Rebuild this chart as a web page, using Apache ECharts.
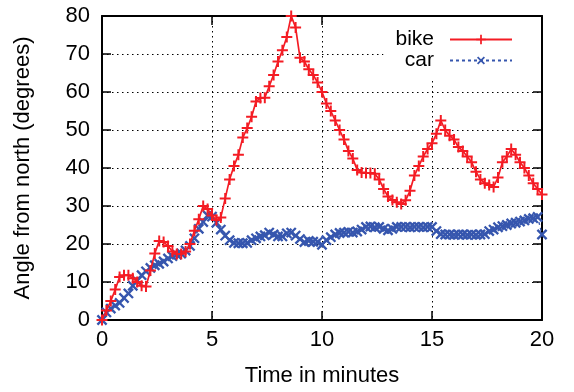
<!DOCTYPE html>
<html>
<head>
<meta charset="utf-8">
<script src="https://cdn.jsdelivr.net/npm/echarts@6/dist/echarts.min.js"></script>
<style>
html,body{margin:0;padding:0;background:#fff;}
#chart{width:574px;height:392px;}
</style>
</head>
<body>
<div id="chart"></div>
<script>
// Time of samples (minutes)
const times = [0,0.2,0.4,0.6,0.8,1,1.2,1.4,1.6,1.8,2,2.2,2.4,2.6,2.8,3,3.2,3.4,3.6,3.8,4,4.2,4.4,4.6,4.8,5,5.2,5.4,5.6,5.8,6,6.2,6.4,6.6,6.8,7,7.2,7.4,7.6,7.8,8,8.2,8.4,8.6,8.8,9,9.2,9.4,9.6,9.8,10,10.2,10.4,10.6,10.8,11,11.2,11.4,11.6,11.8,12,12.2,12.4,12.6,12.8,13,13.2,13.4,13.6,13.8,14,14.2,14.4,14.6,14.8,15,15.2,15.4,15.6,15.8,16,16.2,16.4,16.6,16.8,17,17.2,17.4,17.6,17.8,18,18.2,18.4,18.6,18.8,19,19.2,19.4,19.6,19.8,20];

const bikeValues = [0,2.5,5,8,11.3,11.8,11.8,11,10,9,8.8,13,17.5,20.8,20.5,19.5,18,17.4,17.4,18,20,23.5,26.5,30,29.2,27.5,26.3,27,32,37,40.5,43.5,48,50.5,53.5,57.5,58.4,58.5,61.5,64.5,68,71,74.5,80,77,69,68,66,64.5,62.5,60,57,55,52.5,50,47.5,44.5,42.5,39.5,38.8,38.7,38.7,38.5,37,34.5,32.5,31.6,31,30.5,31.5,34,38,40.5,43,45,46.5,49,52.5,50,48.5,47.5,45.5,44.5,43,41.5,39,37,36,35.5,35,37.5,41.5,43,45,43.5,41.5,40,38,36,34.5,33];

const carValues = [0,2,3,3.8,4.5,5.8,7,9,10.3,11.8,12.8,13.7,14.4,14.8,15.4,16.2,16.8,17.2,17.5,18.3,19.5,21.5,24,25.8,27.5,27.2,25.6,23.8,22.2,21,20.3,20.2,20.2,20.3,21,21.5,22,22.3,23,22.5,22,22,22.8,23,22.2,21.3,20.5,20.8,20.6,20.5,19.8,21,21.8,22.5,22.9,23,23.2,23,23.3,23.8,24.5,24.6,24.4,24.5,24,23.6,24,24.5,24.5,24.5,24.4,24.5,24.5,24.4,24.5,24.5,23.4,22.6,22.5,22.5,22.4,22.5,22.5,22.4,22.5,22.4,22.5,22.6,23.4,23.8,24.4,24.7,25,25.4,25.6,25.9,26.2,26.6,26.8,27.1,22.5];

const seriesNames = ['bike', 'car'];
const xTicks = [0, 5, 10, 15, 20];
const yTicks = [0, 10, 20, 30, 40, 50, 60, 70, 80];

const bikeData = times.map((t, i) => [t, bikeValues[i]]);
const carData = times.map((t, i) => [t, carValues[i]]);

const plusPath = 'path://M4.1,0H5.9V4.1H10V5.9H5.9V10H4.1V5.9H0V4.1H4.1Z';
const FONT = 'Liberation Sans, Arial, sans-serif';
const FS = 22;
const red = '#f41c24';
const blue = '#3656ae';

const chart = echarts.init(document.getElementById('chart'), null, {renderer: 'canvas'});

const tickCommon = {show: true, inside: true, length: 9, lineStyle: {color: '#000', width: 1.5}};

chart.setOption({
  animation: false,
  backgroundColor: '#fff',
  textStyle: {fontFamily: FONT},
  grid: {left: 102, right: 32, top: 16, bottom: 72, containLabel: false},
  legend: {
    data: seriesNames,
    orient: 'vertical',
    right: 33,
    top: 17,
    align: 'right',
    itemWidth: 62,
    itemHeight: 12,
    itemGap: 0,
    padding: [12, 28, 7, 12],
    backgroundColor: '#fff',
    textStyle: {fontFamily: FONT, fontSize: 21, color: '#000', padding: [0, 11, 0, 0]}
  },
  xAxis: [{
    type: 'value', min: xTicks[0], max: xTicks[xTicks.length - 1], interval: 5,
    name: 'Time in minutes', nameLocation: 'middle', nameGap: 45,
    nameTextStyle: {fontFamily: FONT, fontSize: FS, color: '#000'},
    axisLine: {show: true, onZero: false, lineStyle: {color: '#000', width: 2}},
    axisTick: tickCommon,
    axisLabel: {fontFamily: FONT, fontSize: FS, color: '#000', margin: 9},
    splitLine: {show: true, lineStyle: {color: '#000', type: [1.5, 3.5], width: 1}}
  }, {
    type: 'value', position: 'top', min: 0, max: 20, interval: 5,
    axisLine: {show: true, onZero: false, lineStyle: {color: '#000', width: 2}},
    axisTick: tickCommon,
    axisLabel: {show: false},
    splitLine: {show: false}
  }],
  yAxis: [{
    type: 'value', min: yTicks[0], max: yTicks[yTicks.length - 1], interval: 10,
    name: 'Angle from north (degrees)', nameLocation: 'middle', nameGap: 68,
    nameTextStyle: {fontFamily: FONT, fontSize: FS, color: '#000'},
    axisLine: {show: true, onZero: false, lineStyle: {color: '#000', width: 2}},
    axisTick: tickCommon,
    axisLabel: {fontFamily: FONT, fontSize: FS, color: '#000', margin: 12},
    splitLine: {show: true, lineStyle: {color: '#000', type: [1.5, 3.5], width: 1}}
  }, {
    type: 'value', position: 'right', min: 0, max: 80, interval: 10,
    axisLine: {show: true, onZero: false, lineStyle: {color: '#000', width: 2}},
    axisTick: tickCommon,
    axisLabel: {show: false},
    splitLine: {show: false}
  }],
  series: [{
    name: seriesNames[0], type: 'line', data: bikeData,
    xAxisIndex: 0, yAxisIndex: 0,
    symbol: plusPath, symbolSize: 11, showAllSymbol: true,
    lineStyle: {color: red, width: 1.7},
    itemStyle: {color: red},
    z: 3
  }, {
    name: seriesNames[1], type: 'line', data: carData,
    xAxisIndex: 0, yAxisIndex: 0,
    symbol: plusPath, symbolSize: 13, symbolRotate: 45, showAllSymbol: true,
    lineStyle: {color: blue, width: 1.3, type: [3, 3]},
    itemStyle: {color: blue},
    z: 2
  }]
});
</script>
</body>
</html>
